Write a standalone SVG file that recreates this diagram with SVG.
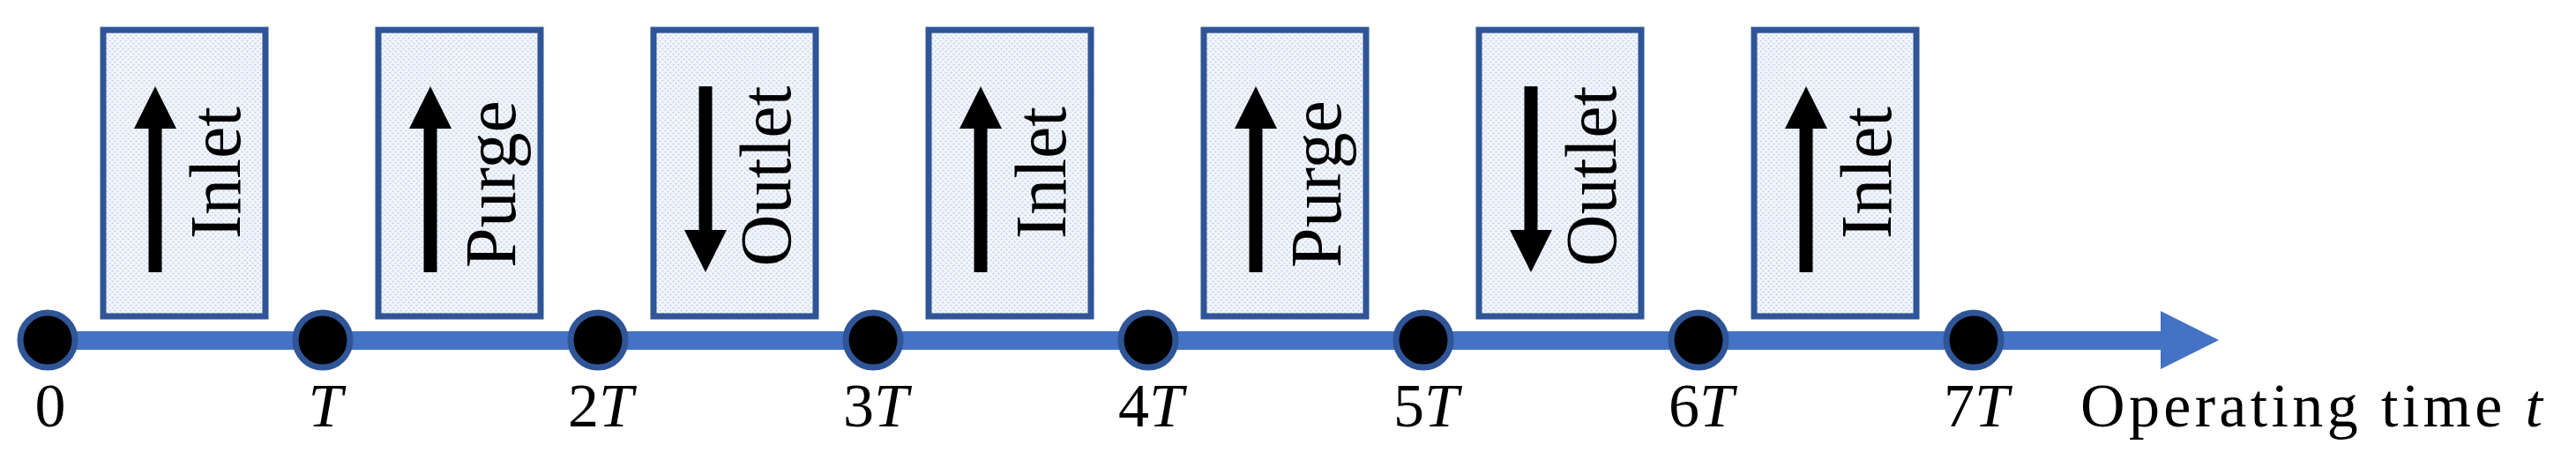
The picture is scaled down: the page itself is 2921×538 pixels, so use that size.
<svg xmlns="http://www.w3.org/2000/svg" width="2921" height="538" viewBox="0 0 2921 538">
<style>
.box{fill:url(#hatch);stroke:#2F5597;stroke-width:7}
.lbl{font-family:"Liberation Serif",serif;font-size:82px;fill:#000}
.tick{font-family:"Liberation Serif",serif;font-size:70px;fill:#000;text-anchor:middle}
.node{fill:#000;stroke:#2F5597;stroke-width:7}
</style>
<defs>
<pattern id="hatch" width="6" height="6" patternUnits="userSpaceOnUse">
<rect width="6" height="6" fill="#F2F5FB"/>
<circle cx="1.5" cy="1.5" r="1.1" fill="#C3D2EE"/>
<circle cx="4.5" cy="4.5" r="1.1" fill="#C3D2EE"/>
</pattern>
<path id="up" d="M-7.5,309 V146 H-24 L0,98 L24,146 H7.5 V309 Z"/>
<path id="down" d="M-7.5,98 V261 H-24 L0,309 L24,261 H7.5 V98 Z"/>
</defs>
<g id="connectors">
<rect x="54" y="376" width="2400" height="21" fill="#4472C4"/>
<polygon points="2450,353 2516,386 2450,419" fill="#4472C4"/>
</g>
<g id="box1"><rect class="box" x="117" y="34" width="184" height="325"/><use href="#up" x="176"/><text class="lbl" transform="translate(272,196) rotate(-90)" text-anchor="middle">Inlet</text></g>
<g id="box2"><rect class="box" x="429" y="34" width="184" height="325"/><use href="#up" x="488"/><text class="lbl" transform="translate(584,209) rotate(-90)" text-anchor="middle">Purge</text></g>
<g id="box3"><rect class="box" x="741" y="34" width="184" height="325"/><use href="#down" x="800"/><text class="lbl" transform="translate(896,200) rotate(-90)" text-anchor="middle">Outlet</text></g>
<g id="box4"><rect class="box" x="1053" y="34" width="184" height="325"/><use href="#up" x="1112"/><text class="lbl" transform="translate(1208,196) rotate(-90)" text-anchor="middle">Inlet</text></g>
<g id="box5"><rect class="box" x="1365" y="34" width="184" height="325"/><use href="#up" x="1424"/><text class="lbl" transform="translate(1520,209) rotate(-90)" text-anchor="middle">Purge</text></g>
<g id="box6"><rect class="box" x="1677" y="34" width="184" height="325"/><use href="#down" x="1736"/><text class="lbl" transform="translate(1832,200) rotate(-90)" text-anchor="middle">Outlet</text></g>
<g id="box7"><rect class="box" x="1989" y="34" width="184" height="325"/><use href="#up" x="2048"/><text class="lbl" transform="translate(2144,196) rotate(-90)" text-anchor="middle">Inlet</text></g>
<g id="t0"><circle class="node" cx="54" cy="386" r="31"/><text class="tick" x="57" y="484">0</text></g>
<g id="t1"><circle class="node" cx="366" cy="386" r="31"/><text class="tick" x="369" y="484" font-style="italic">T</text></g>
<g id="t2"><circle class="node" cx="678" cy="386" r="31"/><text class="tick" x="681" y="484">2<tspan font-style="italic">T</tspan></text></g>
<g id="t3"><circle class="node" cx="990" cy="386" r="31"/><text class="tick" x="993" y="484">3<tspan font-style="italic">T</tspan></text></g>
<g id="t4"><circle class="node" cx="1302" cy="386" r="31"/><text class="tick" x="1305" y="484">4<tspan font-style="italic">T</tspan></text></g>
<g id="t5"><circle class="node" cx="1614" cy="386" r="31"/><text class="tick" x="1617" y="484">5<tspan font-style="italic">T</tspan></text></g>
<g id="t6"><circle class="node" cx="1926" cy="386" r="31"/><text class="tick" x="1929" y="484">6<tspan font-style="italic">T</tspan></text></g>
<g id="t7"><circle class="node" cx="2238" cy="386" r="31"/><text class="tick" x="2241" y="484">7<tspan font-style="italic">T</tspan></text></g>
<text x="2359" y="484" font-family="Liberation Serif,serif" font-size="70" textLength="524">Operating time <tspan font-style="italic">t</tspan></text>
</svg>
